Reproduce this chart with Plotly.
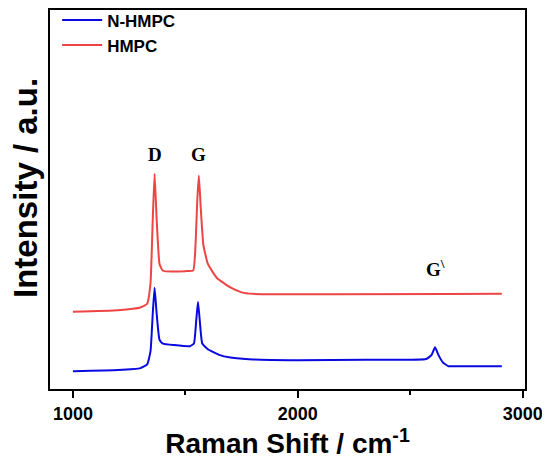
import plotly.graph_objects as go

# Data (y in arbitrary intensity units)
nh_x = [1000, 1200, 1300, 1330, 1345, 1355, 1363, 1372, 1385, 1400, 1450, 1520, 1538, 1548, 1556, 1564, 1575, 1600,
        1650, 1700, 1800, 2000, 2300, 2570, 2595, 2610, 2625, 2645, 2670, 2700, 2907]
nh_y = [4.7, 5.0, 5.5, 6.5, 10, 20, 26.7, 20, 13, 12, 11.6, 11.3, 12, 18, 23, 18, 12, 10.5,
        9, 8.3, 7.8, 7.6, 7.7, 7.9, 9, 11, 9, 7, 6, 6, 6]
h_x = [1000, 1200, 1300, 1330, 1345, 1355, 1363, 1372, 1385, 1400, 1500, 1535, 1545, 1553, 1560, 1568, 1580, 1600,
       1640, 1700, 1750, 1800, 2907]
h_y = [20.4, 20.8, 21.5, 22.5, 28, 45, 56.8, 45, 33, 31.2, 31.1, 31.3, 38, 50, 56.3, 48, 38, 33,
       29.3, 26.8, 25.5, 25.1, 25.1]
peak_labels = ["D", "G", "G<sup>\\</sup>"]
peak_x = [1363, 1558, 2610]
peak_y = [62, 62, 32]

fig = go.Figure()
fig.add_trace(go.Scatter(x=nh_x, y=nh_y, mode="lines", name="N-HMPC",
                         line=dict(color="#0a0ae0", width=2, shape="spline", smoothing=0.4)))
fig.add_trace(go.Scatter(x=h_x, y=h_y, mode="lines", name="HMPC",
                         line=dict(color="#ee4444", width=2, shape="spline", smoothing=0.4)))

for t, x, y in zip(peak_labels, peak_x, peak_y):
    fig.add_annotation(x=x, y=y, text="<b>" + t + "</b>", showarrow=False,
                       font=dict(family="Liberation Serif", size=19, color="black"))

# y-axis title as rotated text
fig.add_annotation(xref="paper", yref="paper", x=-0.053, y=0.53, xanchor="center", yanchor="middle",
                   text="Intensity / a.u.", textangle=-90, showarrow=False, borderpad=0,
                   font=dict(family="Liberation Sans", size=33, color="black", weight="bold"))

fig.update_layout(
    width=542, height=457,
    margin=dict(l=42, r=25, t=2, b=76, autoexpand=False),
    paper_bgcolor="white", plot_bgcolor="white",
    showlegend=True,
    legend=dict(x=0.015, y=1.02, xanchor="left", yanchor="top", bgcolor="rgba(0,0,0,0)",
                font=dict(family="Liberation Sans", size=17, color="black", weight="bold"),
                itemwidth=40, tracegroupgap=0, borderwidth=0),
    font=dict(family="Liberation Sans", color="black"),
)
fig.update_xaxes(range=[898, 3010], showgrid=False, zeroline=False, automargin=False,
                 showline=True, linecolor="black", linewidth=2, mirror=True,
                 ticks="outside", ticklen=7, tickwidth=2, tickcolor="black",
                 tickvals=[1000, 2000, 3000], ticktext=["<b>1000</b>", "<b>2000</b>", "<b>3000</b>"],
                 tickfont=dict(family="Liberation Sans", size=18, color="black", weight="bold"),
                 minor=dict(tickvals=[1500, 2500], ticks="outside", ticklen=4, tickwidth=2, tickcolor="black"),
                 title=dict(text="Raman Shift / cm<sup>-1</sup>", standoff=6,
                            font=dict(family="Liberation Sans", size=28, color="black", weight="bold")))
fig.update_yaxes(range=[0, 100], showgrid=False, zeroline=False, automargin=False,
                 showline=True, linecolor="black", linewidth=2, mirror=True,
                 showticklabels=False, ticks="")

fig.write_html("out.html")
